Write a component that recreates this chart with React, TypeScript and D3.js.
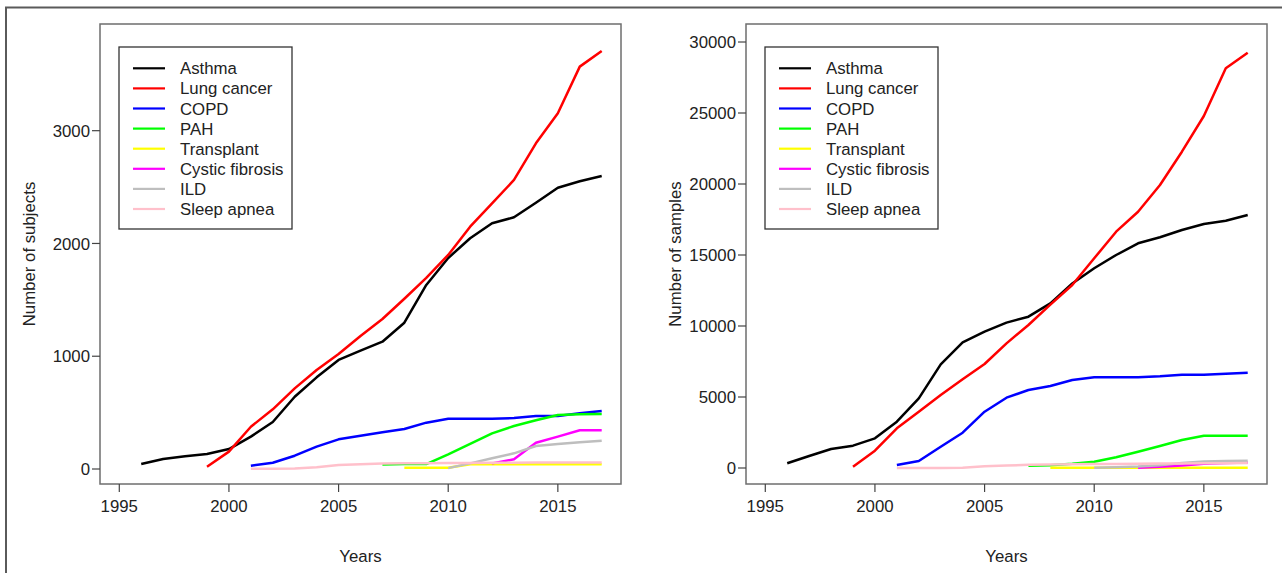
import { useEffect, useRef } from 'react';
import * as d3 from 'd3';

const years = [1996, 1997, 1998, 1999, 2000, 2001, 2002, 2003, 2004, 2005, 2006,
  2007, 2008, 2009, 2010, 2011, 2012, 2013, 2014, 2015, 2016, 2017];
const xTicks = [1995, 2000, 2005, 2010, 2015];
const subjectTicks = [0, 1000, 2000, 3000];
const sampleTicks = [0, 5000, 10000, 15000, 20000, 25000, 30000];

const diseases = ['Asthma', 'Lung cancer', 'COPD', 'PAH', 'Transplant', 'Cystic fibrosis', 'ILD', 'Sleep apnea'];
const colors = ['#000000', '#ff0000', '#0000ff', '#00ff00', '#ffff00', '#ff00ff', '#bebebe', '#ffc0cb'];

const N = null;
// number of subjects, 1996..2017
const subjAsthma = [44, 89, 113, 133, 177, 287, 417, 641, 813, 967, 1049, 1129, 1297, 1632, 1871, 2046, 2179, 2232, 2361, 2494, 2551, 2598];
const subjLung = [N, N, N, 20, 154, 375, 529, 715, 878, 1020, 1179, 1330, 1510, 1694, 1898, 2149, 2356, 2563, 2888, 3154, 3568, 3707];
const subjCopd = [N, N, N, N, N, 29, 56, 118, 198, 263, 295, 325, 355, 411, 446, 446, 446, 452, 470, 471, 494, 514];
const subjPah = [N, N, N, N, N, N, N, N, N, N, N, 41, 44, 44, 130, 222, 316, 381, 432, 479, 485, 488];
const subjTransplant = [N, N, N, N, N, N, N, N, N, N, N, N, 12, 12, 12, 42, 42, 42, 42, 42, 42, 42];
const subjCystic = [N, N, N, N, N, N, N, N, N, N, N, N, N, N, N, N, 50, 86, 233, 287, 343, 343];
const subjIld = [N, N, N, N, N, N, N, N, N, N, N, N, N, N, 8, 50, 95, 139, 204, 222, 237, 251];
const subjSleep = [N, N, N, N, N, 2, 3, 5, 15, 35, 42, 48, 50, 52, 53, 54, 55, 56, 57, 58, 58, 58];

// number of samples, 1996..2017
const sampAsthma = [331, 845, 1338, 1572, 2089, 3263, 4908, 7300, 8850, 9600, 10236, 10657, 11596, 12990, 14063, 15000, 15824, 16246, 16761, 17183, 17415, 17817];
const sampLung = [N, N, N, 94, 1220, 2793, 3965, 5141, 6246, 7324, 8779, 10070, 11500, 12887, 14768, 16641, 18049, 19930, 22275, 24789, 28148, 29246];
const sampCopd = [N, N, N, N, N, 211, 493, 1500, 2486, 3965, 4951, 5493, 5775, 6197, 6385, 6385, 6385, 6455, 6573, 6573, 6643, 6714];
const sampPah = [N, N, N, N, N, N, N, N, N, N, N, 150, 200, 300, 444, 753, 1148, 1549, 1972, 2275, 2275, 2275];
const sampTransplant = [N, N, N, N, N, N, N, N, N, N, N, N, 10, 10, 10, 20, 25, 25, 25, 25, 25, 25];
const sampCystic = [N, N, N, N, N, N, N, N, N, N, N, N, N, N, N, N, 20, 80, 180, 300, 360, 390];
const sampIld = [N, N, N, N, N, N, N, N, N, N, N, N, N, N, 10, 60, 110, 200, 350, 450, 490, 510];
const sampSleep = [N, N, N, N, N, 0, 0, 0, 20, 120, 180, 220, 250, 270, 280, 290, 300, 310, 320, 330, 340, 350];

const subjects = [subjAsthma, subjLung, subjCopd, subjPah, subjTransplant, subjCystic, subjIld, subjSleep];
const samples = [sampAsthma, sampLung, sampCopd, sampPah, sampTransplant, sampCystic, sampIld, sampSleep];

const FONT = '"Liberation Sans", Arial, Helvetica, sans-serif';
const FS = 16.8;

function drawPanel(svg: any, opts: any) {
  const { left, right, top, bottom, yDomain, yTicks, series, yLabel, yLabelX } = opts;

  const x = d3.scaleLinear().domain([1994.12, 2017.88]).range([left, right]);
  const y = d3.scaleLinear().domain(yDomain).range([bottom, top]);

  const g = svg.append('g');

  // plot box
  g.append('rect')
    .attr('x', left).attr('y', top)
    .attr('width', right - left).attr('height', bottom - top)
    .attr('fill', 'none').attr('stroke', '#6e6e6e').attr('stroke-width', 1.5);

  // y ticks
  yTicks.forEach((t: number) => {
    g.append('line')
      .attr('x1', left - 8).attr('x2', left)
      .attr('y1', y(t)).attr('y2', y(t))
      .attr('stroke', '#444').attr('stroke-width', 1.2);
    g.append('text')
      .attr('x', left - 10).attr('y', y(t))
      .attr('dy', '0.36em')
      .attr('text-anchor', 'end')
      .attr('font-family', FONT).attr('font-size', FS)
      .attr('fill', '#222')
      .text(t);
  });

  // x ticks
  xTicks.forEach((t) => {
    g.append('line')
      .attr('x1', x(t)).attr('x2', x(t))
      .attr('y1', bottom).attr('y2', bottom + 8)
      .attr('stroke', '#444').attr('stroke-width', 1.2);
    g.append('text')
      .attr('x', x(t)).attr('y', bottom + 28)
      .attr('text-anchor', 'middle')
      .attr('font-family', FONT).attr('font-size', FS)
      .attr('fill', '#222')
      .text(t);
  });

  // axis titles
  g.append('text')
    .attr('x', (left + right) / 2).attr('y', 562)
    .attr('text-anchor', 'middle')
    .attr('font-family', FONT).attr('font-size', FS)
    .attr('fill', '#222')
    .text('Years');

  g.append('text')
    .attr('transform', `translate(${yLabelX},${(top + bottom) / 2}) rotate(-90)`)
    .attr('text-anchor', 'middle')
    .attr('font-family', FONT).attr('font-size', FS)
    .attr('fill', '#222')
    .text(yLabel);

  // series
  const line = d3.line<number | null>()
    .defined((d) => d !== null)
    .x((_d, i) => x(years[i]))
    .y((d) => y(d as number));

  series.forEach((vals: (number | null)[], i: number) => {
    g.append('path')
      .datum(vals)
      .attr('d', line)
      .attr('fill', 'none')
      .attr('stroke', colors[i])
      .attr('stroke-width', 2.5)
      .attr('stroke-linejoin', 'round');
  });

  // legend
  const lx = left + 19;
  const ly = top + 23;
  g.append('rect')
    .attr('x', lx).attr('y', ly)
    .attr('width', 173).attr('height', 182)
    .attr('fill', 'white').attr('stroke', '#333').attr('stroke-width', 1.3);

  diseases.forEach((name, i) => {
    const ry = ly + 21.3 + i * 20.1;
    g.append('line')
      .attr('x1', lx + 14).attr('x2', lx + 46)
      .attr('y1', ry).attr('y2', ry)
      .attr('stroke', colors[i]).attr('stroke-width', 2.2);
    g.append('text')
      .attr('x', lx + 61).attr('y', ry)
      .attr('dy', '0.36em')
      .attr('font-family', FONT).attr('font-size', FS)
      .attr('fill', '#222')
      .text(name);
  });
}

export default function App() {
  const svgRef = useRef<SVGSVGElement>(null);

  useEffect(() => {
    if (!svgRef.current) return;
    const svg = d3.select(svgRef.current);
    svg.selectAll('*').remove();

    svg.append('rect').attr('width', 1282).attr('height', 573).attr('fill', 'white');

    // outer frame
    svg.append('path')
      .attr('d', 'M6,573 L6,7.5 L1282,7.5')
      .attr('fill', 'none').attr('stroke', '#5a5a5a').attr('stroke-width', 2);

    drawPanel(svg, {
      left: 100, right: 621, top: 24, bottom: 484,
      yDomain: [-133, 3946], yTicks: subjectTicks,
      series: subjects, yLabel: 'Number of subjects', yLabelX: 35,
    });

    drawPanel(svg, {
      left: 746, right: 1267, top: 24, bottom: 484,
      yDomain: [-1127, 31268], yTicks: sampleTicks,
      series: samples, yLabel: 'Number of samples', yLabelX: 681,
    });
  }, []);

  return (
    <svg
      ref={svgRef}
      width={1282}
      height={573}
      style={{ position: 'absolute', left: 0, top: 0, display: 'block' }}
    />
  );
}
